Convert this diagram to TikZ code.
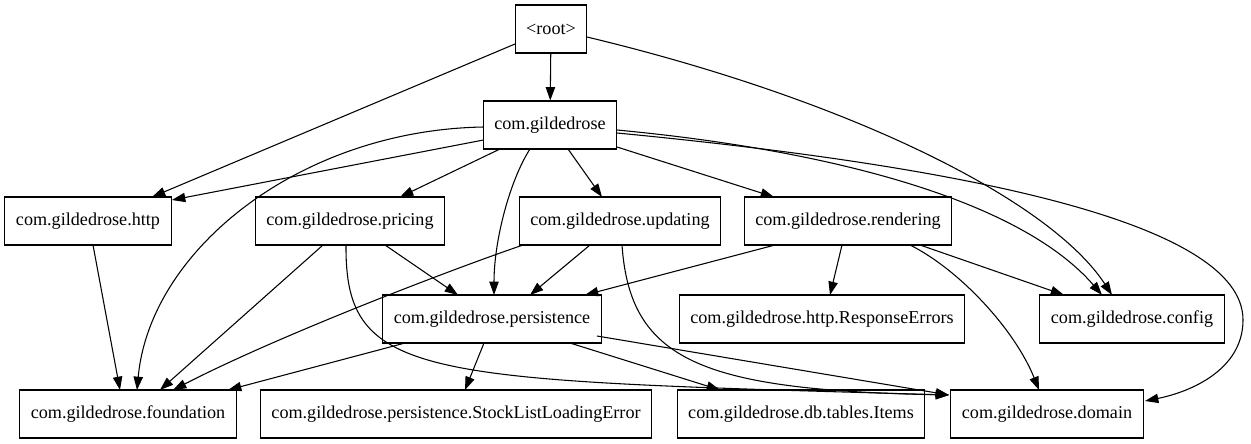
\documentclass[tikz,border=0pt]{standalone}
\usepackage{fontspec}
\setmainfont{Liberation Serif}
\usetikzlibrary{calc,arrows.meta}

\begin{document}
\begin{tikzpicture}[x=0.75pt,y=-0.75pt,
  pkg/.style={draw,line width=0.8pt,minimum height=36pt,inner xsep=8.3pt,font=\fontsize{13.6pt}{16pt}\selectfont},
  dep/.style={line width=0.8pt,-{Triangle[length=10pt,width=7pt]}}]
\useasboundingbox (0,0) rectangle (1251,443);
\node[pkg] (root) at (551,29) {<root>};
\node[pkg] (gr) at (550,125) {com.gildedrose};
\node[pkg] (http) at (88,221) {com.gildedrose.http};
\node[pkg] (pricing) at (350,221) {com.gildedrose.pricing};
\node[pkg] (updating) at (620,221) {com.gildedrose.updating};
\node[pkg] (rendering) at (848,221) {com.gildedrose.rendering};
\node[pkg] (persist) at (492,319) {com.gildedrose.persistence};
\node[pkg] (resperr) at (822,319) {com.gildedrose.http.ResponseErrors};
\node[pkg] (config) at (1132,319) {com.gildedrose.config};
\node[pkg] (found) at (128,414) {com.gildedrose.foundation};
\node[pkg] (stockerr) at (456,414) {com.gildedrose.persistence.StockListLoadingError};
\node[pkg] (items) at (801,414) {com.gildedrose.db.tables.Items};
\node[pkg] (domain) at (1047,414) {com.gildedrose.domain};
\draw[dep] (root) -- (gr);
\draw[dep] ($(root)+(-36,15)$) -- ($(http)+(64,-24)$);
\draw[dep] ($(root)+(36,8)$) .. controls (850,100) and (1050,200) .. ($(config)+(-20,-24)$);
\draw[dep] ($(gr)+(-66.5,15)$) -- ($(http)+(84,-21)$);
\draw[dep] ($(gr)+(-50,24)$) -- ($(pricing)+(50,-24)$);
\draw[dep] ($(gr)+(18,24)$) -- ($(updating)+(-18,-24)$);
\draw[dep] ($(gr)+(67,22)$) -- ($(rendering)+(-74,-24)$);
\draw[dep] ($(gr)+(-20,24)$) .. controls (510,180) and (494,240) .. ($(persist)+(2,-24)$);
\draw[dep] ($(gr)+(-66.5,2)$) .. controls (300,130) and (150,250) .. ($(found)+(9,-24)$);
\draw[dep] ($(gr)+(67,5)$) .. controls (830,150) and (1020,200) .. ($(config)+(-30,-24)$);
\draw[dep] ($(gr)+(67,8)$) .. controls (950,165) and (1243,220) .. (1243,320) .. controls (1243,370) and (1190,392) .. ($(domain)+(98,-13)$);
\draw[dep] ($(http)+(5,24)$) -- ($(found)+(-8,-24)$);
\draw[dep] ($(pricing)+(35,24)$) -- ($(persist)+(-34,-24)$);
\draw[dep] ($(pricing)+(-27,24)$) -- ($(found)+(32,-24)$);
\draw[dep] ($(pricing)+(-4,24)$) .. controls (345,380) and (420,380) .. ($(domain)+(-98,-19)$);
\draw[dep] ($(updating)+(2,24)$) .. controls (630,360) and (700,390) .. ($(domain)+(-98,-19)$);
\draw[dep] ($(updating)+(-30,24)$) -- ($(persist)+(38,-24)$);
\draw[dep] ($(updating)+(-97,24)$) .. controls (450,270) and (280,335) .. ($(found)+(45,-24)$);
\draw[dep] ($(rendering)+(-73,24)$) -- ($(persist)+(93,-24)$);
\draw[dep] ($(rendering)+(-6,24)$) -- ($(resperr)+(8,-24)$);
\draw[dep] ($(rendering)+(72,24)$) -- ($(config)+(-68,-24)$);
\draw[dep] ($(rendering)+(62,24)$) .. controls (960,270) and (1015,330) .. ($(domain)+(-8,-24)$);
\draw[dep] ($(persist)+(-87,24)$) -- ($(found)+(100,-24)$);
\draw[dep] ($(persist)+(-8,24)$) -- ($(stockerr)+(9,-24)$);
\draw[dep] ($(persist)+(78,24)$) -- ($(items)+(-81,-24)$);
\draw[dep] ($(persist)+(105,17)$) -- ($(domain)+(-98,-19)$);
\end{tikzpicture}
\end{document}
